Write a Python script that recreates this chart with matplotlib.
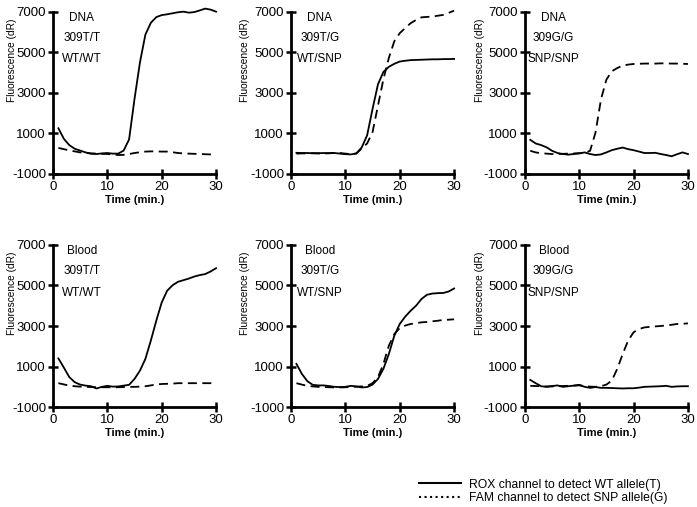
import matplotlib
matplotlib.use("Agg")
import matplotlib.pyplot as plt
from matplotlib.lines import Line2D

plt.rcParams['font.family'] = ['Liberation Sans', 'DejaVu Sans']
plt.rcParams['axes.unicode_minus'] = False

time = list(range(1, 31))

# ROX (solid) and FAM (dashed) curves for each panel
dna_tt_rox = [1250, 730, 420, 240, 150, 60, 0, -20, 10, 30, 0, 0, 150, 700, 2700,
              4500, 5870, 6450, 6730, 6830, 6870, 6920, 6970, 7000, 6950, 6980, 7060, 7150, 7100, 7000]
dna_tt_fam = [280, 220, 160, 110, 60, 30, 10, 0, -10, -20, -40, -70, -60, -20, 30,
              70, 100, 110, 110, 100, 100, 70, 30, 10, 0, -10, -20, -30, -40, -40]
dna_tg_rox = [40, 30, 30, 20, 20, 30, 20, 30, 0, -25, -40, 10, 300, 900, 2200,
              3420, 4030, 4280, 4430, 4540, 4580, 4610, 4620, 4630, 4640, 4650, 4650, 4660, 4660, 4670]
dna_tg_fam = [0, 10, 10, 20, 10, 0, 20, 40, 30, 0, -20, 0, 250, 500, 1060,
              2370, 3670, 4720, 5540, 5940, 6190, 6430, 6590, 6720, 6740, 6760, 6800, 6840, 6940, 7050]
dna_gg_rox = [680, 500, 420, 310, 140, 30, -20, -50, -20, 10, 60, -20, -70, -40, 60,
              170, 240, 300, 220, 170, 100, 30, 30, 40, -20, -70, -130, -30, 60, -20]
dna_gg_fam = [140, 60, 20, 0, -20, -20, -10, 0, 10, 20, 30, 140, 1040, 2670, 3650,
              4060, 4220, 4340, 4390, 4420, 4430, 4440, 4440, 4440, 4450, 4450, 4440, 4440, 4430, 4420]
bld_tt_rox = [1400, 950, 480, 230, 110, 60, 30, -80, 0, 50, 10, 20, 60, 100, 390,
              800, 1380, 2280, 3260, 4160, 4740, 5010, 5180, 5260, 5340, 5440, 5510, 5560, 5690, 5850]
bld_tt_fam = [180, 120, 60, 30, 10, 0, -10, -20, -20, -20, -20, -20, -10, 0, 0,
              10, 30, 70, 120, 140, 150, 160, 180, 180, 180, 180, 180, 180, 180, 180]
bld_tg_rox = [1130, 640, 280, 100, 70, 70, 40, 0, -10, 0, 50, 20, -30, -10, 110,
              390, 890, 1620, 2520, 3100, 3460, 3750, 4000, 4330, 4540, 4600, 4620, 4630, 4700, 4850]
bld_tg_fam = [180, 110, 50, 20, 0, -10, -20, -30, -30, -20, -10, 10, 20, 50, 180,
              480, 1130, 2030, 2600, 2900, 3020, 3100, 3140, 3180, 3200, 3230, 3260, 3300, 3310, 3330]
bld_gg_rox = [340, 180, 30, 0, 40, 70, 0, 30, 60, 100, 0, -50, -10, -50, -50,
              -60, -70, -80, -70, -70, -40, 0, 10, 20, 30, 50, 0, 20, 30, 30]
bld_gg_fam = [50, 40, 30, 20, 20, 30, 40, 50, 60, 70, 40, 10, 0, 30, 110,
              310, 890, 1620, 2280, 2690, 2850, 2930, 2960, 2980, 3000, 3030, 3060, 3100, 3110, 3130]

samples = ["DNA", "DNA", "DNA", "Blood", "Blood", "Blood"]
genotypes = ["309T/T", "309T/G", "309G/G", "309T/T", "309T/G", "309G/G"]
alleles = ["WT/WT", "WT/SNP", "SNP/SNP", "WT/WT", "WT/SNP", "SNP/SNP"]
rox = [dna_tt_rox, dna_tg_rox, dna_gg_rox, bld_tt_rox, bld_tg_rox, bld_gg_rox]
fam = [dna_tt_fam, dna_tg_fam, dna_gg_fam, bld_tt_fam, bld_tg_fam, bld_gg_fam]

fig = plt.figure(figsize=(6.97, 5.07), dpi=100)

lefts = [0.076, 0.4175, 0.753]
bottoms = [0.657, 0.197]
w, h = 0.234, 0.32
ylab_x = [-0.22, -0.25, -0.245]

for i in range(6):
    ax = fig.add_axes([lefts[i % 3], bottoms[i // 3], w, h])
    ax.plot(time, rox[i], color='black', lw=1.3, ls='-', clip_on=False)
    ax.plot(time, fam[i], color='black', lw=1.3, ls=(0, (5, 3)), clip_on=False)
    ax.set_xlim(0, 30)
    ax.set_ylim(-1000, 7000)
    ax.set_xticks([0, 10, 20, 30])
    ax.set_yticks([-1000, 1000, 3000, 5000, 7000])
    for s in ['top', 'right']:
        ax.spines[s].set_visible(False)
    for s in ['left', 'bottom']:
        ax.spines[s].set_linewidth(2)
    ax.tick_params(direction='inout', length=7, width=1.8, labelsize=9.5, pad=1.5)
    ax.set_ylabel("Fluorescence (dR)", fontsize=7.3)
    ax.yaxis.set_label_coords(ylab_x[i % 3], 0.70)
    ax.set_xlabel("Time (min.)", fontsize=8, fontweight='bold', labelpad=1.5)
    ax.text(5.3, 6700, samples[i], ha='center', va='center', fontsize=8.5)
    ax.text(5.3, 5700, genotypes[i], ha='center', va='center', fontsize=8.5)
    ax.text(5.3, 4650, alleles[i], ha='center', va='center', fontsize=8.5)

handles = [Line2D([0], [0], color='black', lw=1.5, ls='-'),
           Line2D([0], [0], color='black', lw=1.5, ls=':')]
labels = ["ROX channel to detect WT allele(T)", "FAM channel to detect SNP allele(G)"]
fig.legend(handles, labels, loc='upper left', bbox_to_anchor=(0.5925, 0.068),
           frameon=False, fontsize=8.7, handlelength=3.5, handletextpad=0.6,
           labelspacing=0.1, borderpad=0)

fig.savefig("out.png", dpi=100)
